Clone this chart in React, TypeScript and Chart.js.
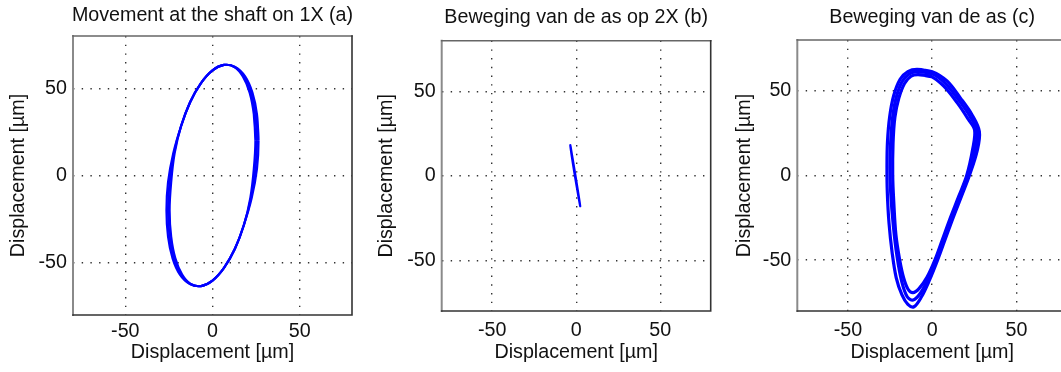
import React, { useEffect, useRef } from 'react';
import { Chart, registerables } from 'chart.js';

Chart.register(...registerables);

// ---------- data ----------
const AXIS_MIN = -80;
const AXIS_MAX = 80;
const TICK_VALUES = [-50, 0, 50];
const TICK_LABELS = ['-50', '0', '50'];
const AXIS_TITLE = 'Displacement [µm]';
const PANEL_TITLES = [
  'Movement at the shaft on 1X (a)',
  'Beweging van de as op 2X (b)',
  'Beweging van de as (c)',
];

// (a) orbit at 1X: outer edge, middle and inner edge of the traced band
const orbitA_outer: [number, number][] = [
  [26.4, 20.0], [25.5, 35.0], [22.9, 47.5], [18.7, 56.8], [13.0, 62.2], [6.6, 63.4],
  [0, 60.3], [-6.6, 53.0], [-12.8, 42.2], [-18.0, 28.4], [-22.5, 12.8], [-25.5, -3.8],
  [-26.4, -20.0], [-25.5, -35.0], [-22.9, -47.5], [-18.7, -56.8], [-13.0, -62.2], [-6.6, -63.4],
  [0, -60.3], [6.6, -53.0], [12.8, -42.2], [18.0, -28.4], [22.5, -12.8], [25.5, 3.8],
];
const orbitA_mid: [number, number][] = [
  [25.5, 20.0], [24.6, 35.0], [22.1, 47.5], [18.0, 56.8], [12.75, 62.2], [6.6, 63.4],
  [0, 60.3], [-6.6, 53.0], [-12.75, 42.2], [-18.0, 28.4], [-22.1, 12.8], [-24.6, -3.8],
  [-25.5, -20.0], [-24.6, -35.0], [-22.1, -47.5], [-18.0, -56.8], [-12.75, -62.2], [-6.6, -63.4],
  [0, -60.3], [6.6, -53.0], [12.75, -42.2], [18.0, -28.4], [22.1, -12.8], [24.6, 3.8],
];
const orbitA_inner: [number, number][] = [
  [24.6, 20.0], [23.7, 35.0], [21.3, 47.5], [17.4, 56.8], [12.5, 62.2], [6.6, 63.4],
  [0, 60.3], [-6.6, 53.0], [-12.8, 42.2], [-18.0, 28.4], [-21.7, 12.8], [-23.7, -3.8],
  [-24.6, -20.0], [-23.7, -35.0], [-21.3, -47.5], [-17.4, -56.8], [-12.5, -62.2], [-6.6, -63.4],
  [0, -60.3], [6.6, -53.0], [12.8, -42.2], [18.0, -28.4], [21.7, -12.8], [23.7, 3.8],
];

// (b) orbit at 2X: a very narrow loop
const orbitB: [number, number][] = [
  [-3.5, 18.2], [-0.5, 0.5], [2.4, -18], [-0.7, -0.5],
];

// (c) full orbit: outer edge, middle and inner edge of the band
const orbitC_outer: [number, number][] = [
  [-9.0, 62.6], [0, 61.3], [8.8, 55.8], [16.8, 45.7], [23.8, 35.6], [28.0, 26.0],
  [26.8, 15.0], [22.1, 0], [17.3, -12.5], [12.4, -25.0], [7.8, -37.5], [3.2, -50.0],
  [-1.6, -61.8], [-6.3, -71.6], [-10.8, -77.5], [-14.4, -76.1], [-17.9, -70.5], [-21.3, -60.4],
  [-23.8, -45.0], [-25.6, -28.0], [-26.6, -10.0], [-26.8, 5.0], [-26.5, 20.0], [-25.2, 34.7],
  [-22.8, 47.2], [-19.0, 56.8], [-14.4, 61.3],
];
const orbitC_mid: [number, number][] = [
  [-8.5, 61.3], [0, 60.0], [7.9, 54.3], [15.8, 44.5], [22.6, 34.7], [26.6, 26.5],
  [25.4, 15.0], [21.3, 0], [16.5, -12.5], [11.6, -25.0], [7.0, -37.5], [2.4, -50.0],
  [-2.3, -61.0], [-7.0, -69.5], [-11.2, -73.5], [-14.8, -71.6], [-18.1, -62.4], [-20.8, -48.0],
  [-23.0, -30.0], [-24.6, -10.0], [-25.0, 5.0], [-24.6, 20.0], [-23.4, 34.7], [-21.2, 46.5],
  [-17.8, 55.5], [-13.5, 60.0],
];
const orbitC_inner: [number, number][] = [
  [-8.2, 59.5], [-0.4, 58.4], [6.9, 52.7], [14.8, 43.0], [21.3, 33.4], [25.2, 26.8],
  [24.0, 15.3], [20.5, 0], [15.7, -12.5], [10.8, -25.0], [6.2, -37.5], [1.6, -50.0],
  [-3.0, -60.0], [-7.8, -66.8], [-11.4, -69.2], [-14.2, -67.3], [-16.9, -60.5], [-19.3, -49.6],
  [-21.5, -35.0], [-22.8, -15.0], [-23.4, 0], [-23.2, 19.0], [-22.1, 34.3], [-19.8, 45.5],
  [-16.4, 54.3], [-12.5, 58.6],
];

// ---------- layout / style ----------
const FONT_FAMILY = '"Liberation Sans", Arial, Helvetica, sans-serif';
const FONT_SIZE = 19.7;
const TEXT_COLOR = '#111111';
const LINE_COLOR = '#0000ff';

type PanelCfg = {
  left: number;
  padTop: number;
  padRight: number;
  yWidth: number;
  xHeight: number;
  yTitlePad: number;
  xTickPad: number;
  titleY: number;
  title: string;
  series: [number, number][][];
  lineWidth: number;
};

const PANELS: PanelCfg[] = [
  { left: 0, padTop: 36, padRight: 8, yWidth: 73, xHeight: 57, yTitlePad: 7.2, xTickPad: 4.5, titleY: 15.5, title: PANEL_TITLES[0], series: [orbitA_outer, orbitA_mid, orbitA_inner], lineWidth: 2.2 },
  { left: 360, padTop: 40.7, padRight: 9.3, yWidth: 81.7, xHeight: 61, yTitlePad: 14.7, xTickPad: 8, titleY: 18, title: PANEL_TITLES[1], series: [orbitB], lineWidth: 2.2 },
  { left: 720, padTop: 40, padRight: 13, yWidth: 77.3, xHeight: 61, yTitlePad: 13.2, xTickPad: 7.5, titleY: 18, title: PANEL_TITLES[2], series: [orbitC_outer, orbitC_mid, orbitC_inner], lineWidth: 3.2 },
];

const font = { family: FONT_FAMILY, size: FONT_SIZE, lineHeight: 1.2 };

// repeat the first two points so the smoothed line closes without a kink
const closeLoop = (pts: [number, number][]) => [...pts, pts[0], pts[1]];

const framePlugin = {
  id: 'frame',
  afterDraw(chart: any) {
    const { ctx, chartArea: a } = chart;
    ctx.save();
    ctx.lineCap = 'square';
    ctx.strokeStyle = '#8a8a8a';
    ctx.lineWidth = 2;
    ctx.beginPath();
    ctx.moveTo(a.left, a.bottom);
    ctx.lineTo(a.left, a.top);
    ctx.stroke();
    ctx.strokeStyle = '#666666';
    ctx.lineWidth = 1.6;
    ctx.beginPath();
    ctx.moveTo(a.left, a.top);
    ctx.lineTo(a.right, a.top);
    ctx.stroke();
    ctx.strokeStyle = '#333333';
    ctx.beginPath();
    ctx.moveTo(a.right, a.top);
    ctx.lineTo(a.right, a.bottom);
    ctx.lineTo(a.left, a.bottom);
    ctx.stroke();
    ctx.restore();
  },
};

function makeTitlePlugin(text: string, y: number) {
  return {
    id: 'panelTitle',
    afterDraw(chart: any) {
      const { ctx, chartArea: a } = chart;
      ctx.save();
      ctx.font = `${FONT_SIZE}px ${FONT_FAMILY}`;
      ctx.fillStyle = TEXT_COLOR;
      ctx.textAlign = 'center';
      ctx.textBaseline = 'middle';
      ctx.fillText(text, (a.left + a.right) / 2, y);
      ctx.restore();
    },
  };
}

function axisOptions(kind: 'x' | 'y', cfg: PanelCfg) {
  return {
    type: 'linear',
    position: kind === 'x' ? 'bottom' : 'left',
    min: AXIS_MIN,
    max: AXIS_MAX,
    afterBuildTicks: (s: any) => {
      s.ticks = TICK_VALUES.map((v) => ({ value: v }));
    },
    afterFit: (s: any) => {
      if (kind === 'x') s.height = cfg.xHeight;
      else s.width = cfg.yWidth;
    },
    ticks: {
      font,
      color: TEXT_COLOR,
      padding: kind === 'x' ? cfg.xTickPad : 6,
      maxRotation: 0,
      autoSkip: false,
      callback: (v: any) => {
        const i = TICK_VALUES.indexOf(Number(v));
        return i >= 0 ? TICK_LABELS[i] : '';
      },
    },
    grid: {
      drawTicks: false,
      color: '#333333',
      lineWidth: 1.4,
    },
    border: { display: false, dash: [1.4, 7.3] },
    title: {
      display: true,
      text: AXIS_TITLE,
      font,
      color: TEXT_COLOR,
      padding: kind === 'x' ? { top: 0, bottom: 7.2 } : { top: cfg.yTitlePad, bottom: 0 },
    },
  };
}

function Panel({ cfg }: { cfg: PanelCfg }) {
  const ref = useRef<HTMLCanvasElement>(null);
  useEffect(() => {
    const chart = new Chart(ref.current as HTMLCanvasElement, {
      type: 'scatter',
      data: {
        datasets: cfg.series.map((s) => ({
          data: closeLoop(s).map(([x, y]) => ({ x, y })),
          showLine: true,
          borderColor: LINE_COLOR,
          backgroundColor: LINE_COLOR,
          borderWidth: cfg.lineWidth,
          pointRadius: 0,
          pointHoverRadius: 0,
          tension: 0.35,
          fill: false,
        })),
      },
      options: {
        responsive: false,
        animation: false,
        devicePixelRatio: 1,
        events: [],
        layout: { padding: { left: 0, top: cfg.padTop, right: cfg.padRight, bottom: 0 } },
        plugins: {
          legend: { display: false },
          tooltip: { enabled: false },
          title: { display: false },
        },
        scales: {
          x: axisOptions('x', cfg) as any,
          y: axisOptions('y', cfg) as any,
        },
      },
      plugins: [framePlugin, makeTitlePlugin(cfg.title, cfg.titleY)],
    });
    return () => chart.destroy();
  }, [cfg]);
  return (
    <canvas
      ref={ref}
      width={360}
      height={372}
      style={{ position: 'absolute', left: cfg.left, top: 0, width: 360, height: 372, display: 'block' }}
    />
  );
}

export default function App() {
  return (
    <div
      style={{
        position: 'absolute',
        left: 0,
        top: 0,
        width: 1061,
        height: 372,
        overflow: 'hidden',
        background: '#ffffff',
      }}
    >
      {PANELS.map((p, i) => (
        <Panel key={i} cfg={p} />
      ))}
    </div>
  );
}
